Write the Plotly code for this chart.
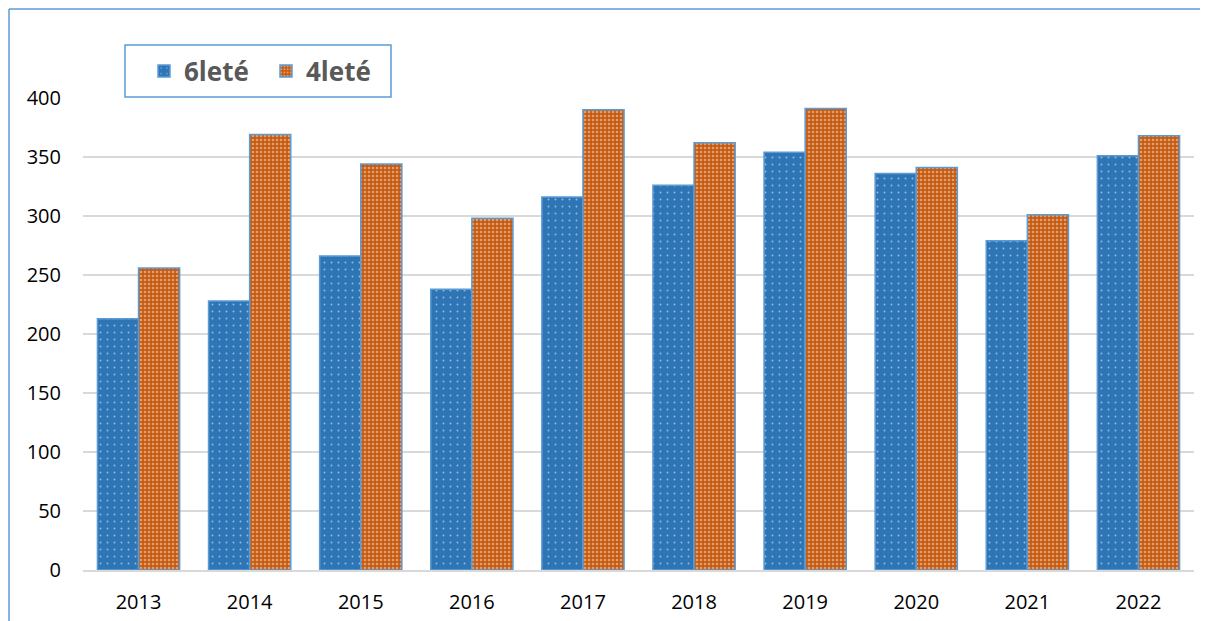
import plotly.graph_objects as go

years = ["2013", "2014", "2015", "2016", "2017", "2018", "2019", "2020", "2021", "2022"]
six_year = [213, 228, 266, 238, 316, 326, 354, 336, 279, 351]
four_year = [256, 369, 344, 298, 390, 362, 391, 341, 301, 368]
y_ticks = [0, 50, 100, 150, 200, 250, 300, 350, 400]

# page has an 8px body margin: work in reference pixels, offset by 8
OFF = 8
W, H = 1208 - OFF, 621 - OFF
L, R, T, B = 83 - OFF, 14, 98 - OFF, 51
pw, ph = W - L - R, H - T - B

def px(x):
    return (x - OFF - L) / pw

def py(y):
    return (H - B - (y - OFF)) / ph

fig = go.Figure()
fig.add_trace(go.Bar(
    x=years, y=six_year, name="6leté",
    marker=dict(color="#2E75B6",
                line=dict(color="#5B9BD5", width=1.5),
                pattern=dict(shape=".", fgcolor="white", bgcolor="#2E75B6",
                             size=7, solidity=0.06, fillmode="overlay")),
))
fig.add_trace(go.Bar(
    x=years, y=four_year, name="4leté",
    marker=dict(color="#C55A11",
                line=dict(color="#5B9BD5", width=1.5),
                pattern=dict(shape=".", fgcolor="#FCE4D6", bgcolor="#C55A11",
                             size=4, solidity=0.35, fillmode="overlay")),
))

fig.update_layout(
    width=W, height=H,
    margin=dict(l=L, r=R, t=T, b=B, autoexpand=False),
    paper_bgcolor="white", plot_bgcolor="white",
    barmode="group", bargap=0.26, bargroupgap=0,
    font=dict(family="Open Sans, Calibri, sans-serif", size=20, color="black"),
    showlegend=True,
    legend=dict(orientation="h", x=px(144), y=py(71), xanchor="left", yanchor="middle",
                bgcolor="rgba(0,0,0,0)", borderwidth=0,
                font=dict(size=26, color="#595959", weight="bold"),
                itemwidth=30, entrywidth=77, traceorder="normal"),
    xaxis=dict(showgrid=False, showline=True, linecolor="#D9D9D9", linewidth=1.5,
               ticks="", tickfont=dict(size=20), ticklabelstandoff=13, automargin=False),
    yaxis=dict(range=[0, 400], tickvals=y_ticks, showgrid=True, gridcolor="#D9D9D9",
               gridwidth=1.5, zeroline=False, showline=False, ticks="",
               tickfont=dict(size=20), ticklabelstandoff=21, automargin=False),
    shapes=[
        dict(type="line", xref="paper", yref="paper", x0=px(9), x1=px(1215),
             y0=py(9), y1=py(9), line=dict(color="#5B9BD5", width=1.5)),
        dict(type="line", xref="paper", yref="paper", x0=px(9), x1=px(9),
             y0=py(9), y1=py(630), line=dict(color="#5B9BD5", width=1.5)),
        dict(type="rect", xref="paper", yref="paper", x0=px(125), x1=px(391),
             y0=py(97), y1=py(45), line=dict(color="#5B9BD5", width=1.5),
             fillcolor="white", layer="below"),
    ],
)

fig.write_html("out.html")
